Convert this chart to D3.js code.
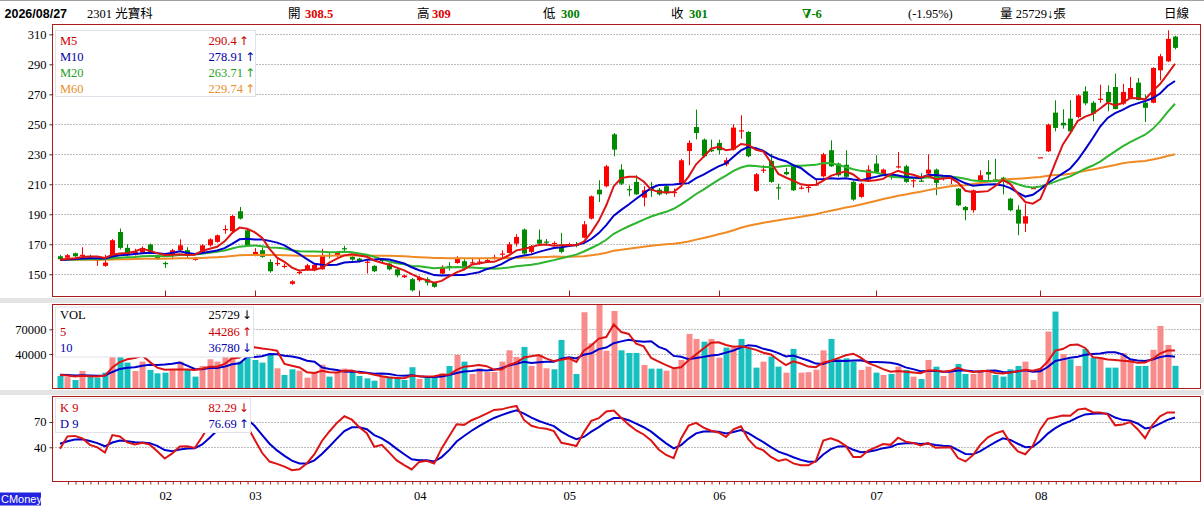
<!DOCTYPE html>
<html>
<head>
<meta charset="utf-8">
<script src="https://cdn.jsdelivr.net/npm/d3@7"></script>
<style>
  body { margin: 0; background: #fff; }
  svg text { font-family: "Liberation Serif", "DejaVu Serif", "Noto Sans CJK TC", serif; }
</style>
</head>
<body>
<script>
// daily candles, 2026/01 .. 2026/08/27
var opens  = [162,161,164,162.5,161.8,159.5,155.6,161.6,178.2,167.6, 163.1,164.5,169.8,162,157.6,162.7,166,166,159.6,164.4,
              169.3,171.6,179.8,178.7,192,179.3,162.7,166,158.2,157, 155.3,143.6,151,153.3,152.7,153.3,162.9,162.2,167.4,161.6,
              160.4,158,155.6,159.6,157.1,153.3,148,146.7,146,146.7, 144.4,150.4,155.5,157.5,158.7,157.6,158.3,159.3,161,163.3,
              164.2,170.4,179.8,164.9,173.1,171.8,170.7,168.2,169.6,169.8, 174.4,187.1,206.4,208.7,243.3,219.8,206.8,211.6,201.1,207.8,
              206.4,208.7,204.5,210.9,232.2,248.2,239.8,233,237.6,223.3, 233.1,245.6,244.9,205.6,219.5,225.6,208,218.2,222.7,207.5,
              207.5,209.5,215.3,232.7,223.8,223,211.6,201.6,213.1,223.8, 216.7,216,221.5,222,212.4,212.5,217.1,219.8,213.5,213.5,
              207.1,194.9,192.7,212.7,218.2,213.3,214.4,200.4,193.1,183.8, 207.5,228,232,257.8,251,253.8,254.9,272,264.4,266.9,
              271.6,274.9,263.8,267.6,277.8,264.4,264.4,286,292,308.5];
var highs  = [163,163.5,164.5,168,163,160.5,163,173.5,180.5,170, 167,168.5,170.5,162.5,158.5,167,173.3,168,161.5,170,
              174,176.5,182.7,189.5,194.9,180,167.5,168,160,160, 157.2,146,153,157,156.5,167,165,165,169,162,
              161,159.4,156,160.5,157.5,154,149.8,147.5,149,148, 145,156,158,162,160,160.5,160.5,160.5,163,166,
              171.5,176.7,180.5,169.5,179.8,173.5,172,177.6,171,171.5, 185.5,202.5,212.7,223,244.2,223.3,209.3,216,208.7,211.6,
              207.5,209.5,207.2,227,239.3,259.8,240.5,239.8,239.8,227.8, 250,256,245.5,217.5,222.7,230.4,210.4,221,223.5,209,
              209.5,213.8,231,239.3,224.5,232.7,212.5,211,222.7,229.3, 220.5,217.5,231.5,223,213.5,217.5,230,220.5,215,215.5,
              207.5,195.5,206.5,219.3,226,227,215,201,196,197.1, 207.5,228,250.5,266,260,266,270,275.3,265.5,276.4,
              276,283.8,277,281.6,280.9,269.8,288,297,312.7,309];
var lows   = [159,160.5,161.5,160.5,160,155.6,155,161,166.5,162, 162.5,164,164,159.5,154.2,160,165.5,161,159,164,
              168.5,171,177,178,186.5,168.5,162,161,151,155.5, 153.9,143,150,152.5,152,153,160.5,161.5,164.8,159,
              158,150.5,151.5,157.5,152.5,148,147.5,138.5,145,142.5, 141,150,152.5,157,153,156,156.5,158.5,159.8,161.5,
              163.8,168.5,163,164,170,169.3,169.5,164,169,168, 174,186.5,198.2,208,228.7,209.5,202,203,195.3,201.6,
              202.5,203,201.6,210,222.7,240,228,231.5,230,222, 232.5,240.4,228,205,217.6,211,199.8,216,205.5,206.5,
              204.5,209,214.5,221.5,215,214.5,199,201,212.5,217.5, 216,213.1,220.5,211,207.8,211.5,216.5,202.7,212.5,210,
              195.5,186,191,212,211.5,212,203.3,192,176,178.2, 207.5,228,231.5,245.3,247.1,244.5,254,262.7,252,264.4,
              258.7,260,263,267,266,251.6,264,279.3,291.6,300];
var closes = [160,162.7,162,163,161.5,159.8,157.8,172.7,167.6,163.1, 164.9,167.5,164.9,160,156.7,166,169.3,162.2,160.9,169.3,
              173.3,176,180.2,188.9,187.1,169.3,164.9,161.6,152,157.5, 155.6,145.3,151.5,156,156.3,162.7,162.5,164.4,167.1,159.8,
              158.7,158.4,152,159.3,153.3,149.3,149.2,139.3,147.6,144.4, 141.6,154.9,154.5,161,153.8,158,158.5,159.5,161.5,163.8,
              170,174.9,163.8,168.7,170.4,171.6,170.9,164.9,170,169.5, 183.3,202,203.3,222,233.1,210.4,206.4,203.3,206,205.8,
              203.3,204,204.9,226,237.6,244.2,228.7,232,232.7,226, 247.8,246,228.7,216.7,219.8,211.6,207.8,216.7,206,207.8,
              208.3,210,230,222,216,215,199.8,210.4,219.8,218.2, 219.8,215.5,222,211.6,212.7,212,219.8,210.9,214.3,214.5,
              196,192.7,206,216,216.5,213,212.7,192.7,183.8,188.7, 207.5,228,249.8,247.6,249.3,245.3,269.3,264,257.1,267.1,
              264.9,260.2,271.6,274.2,266.2,261,287.6,295.4,307,301];
var volumes = [13400,12000,8500,19400,12600,11300,17400,58000,52000,29600, 19400,30800,20700,16600,17400,21000,30800,20700,12600,25500,
               33600,30800,38000,45000,30800,95000,32800,29600,40100,22700, 14600,21500,19800,11300,18200,27100,12600,18200,22300,19800,
               13400,10500,7700,13400,12600,10500,8500,24000,9700,11700, 11700,16600,25500,38900,30800,15800,22700,18200,18200,30800,
               44500,36500,48600,25500,38900,22700,21500,57100,34800,15800, 90700,53000,99600,44000,92300,44500,41300,41300,26700,22300,
               22300,19800,22700,32800,64400,58300,55000,58300,35600,47800, 47800,58300,47800,23500,30800,36900,24700,17400,46200,17400,
               18000,21000,44500,58300,33600,34800,30800,20700,24700,17400, 14600,15800,24700,20700,12600,9700,32800,24700,13400,17400,
               27900,15800,15800,18200,20700,14600,12600,21500,25500,30800, 8500,22700,67300,91500,40100,33600,25500,46200,35600,35600,
               23500,23500,41000,32900,25500,25500,45100,74100,51000,25729];

var monthIdx    = [14, 26, 48, 68, 88, 109, 131];
var monthLabels = ["02", "03", "04", "05", "06", "07", "08"];
var priceTicks  = [150, 170, 190, 210, 230, 250, 270, 290, 310];
var volTicks    = [40000, 70000];
var kdTicks     = [40, 70];

// level of the averages at the left edge (stands in for days before the chart)
var seedClose = 159.5, seedVol = 15000, kSeed = 45, dSeed = 47;

var maLegend  = [["M5", "290.4", "↑"], ["M10", "278.91", "↑"], ["M20", "263.71", "↑"], ["M60", "229.74", "↑"]];
var volLegend = [["VOL", "25729", "↓"], ["5", "44286", "↑"], ["10", "36780", "↓"]];
var kdLegend  = [["K 9", "82.29", "↓"], ["D 9", "76.69", "↑"]];

var movingAvg = function(values, n, seed) {
  return values.map(function(v, i) {
    var sum = 0;
    for (var k = i - n + 1; k <= i; k++) sum += (k < 0 ? seed : values[k]);
    return sum / n;
  });
}

var ma5  = movingAvg(closes, 5, seedClose),
    ma10 = movingAvg(closes, 10, seedClose),
    ma20 = movingAvg(closes, 20, seedClose),
    ma60 = movingAvg(closes, 60, seedClose);
var vma5  = movingAvg(volumes, 5, seedVol),
    vma10 = movingAvg(volumes, 10, seedVol);

// KD(9)
var kLine = [], dLine = [];
var kp = kSeed, dp = dSeed;
closes.forEach(function(c, i) {
  var lo = d3.min(lows.slice(Math.max(0, i - 8), i + 1));
  var hi = d3.max(highs.slice(Math.max(0, i - 8), i + 1));
  var rsv = hi == lo ? 50 : (c - lo) / (hi - lo) * 100;
  kp = kp * 2 / 3 + rsv / 3;
  dp = dp * 2 / 3 + kp / 3;
  kLine.push(kp);
  dLine.push(dp);
});

var screen = {width: 1204, height: 516};
var left = 52.5, right = 1200.5;
var mainP = {top: 24.5, bottom: 296.5},
    volP  = {top: 304.5, bottom: 388.5},
    kdP   = {top: 396.5, bottom: 481.5};

var RED = "#ff0000", GREEN = "#008a00", BORDER = "#a81c1c";

var svg = d3.select("body")
            .append("svg")
            .attr("width", screen.width)
            .attr("height", screen.height);

var x = d3.scaleLinear().domain([0, closes.length - 1]).range([60, 1175]);
var y = d3.scaleLinear().domain([135.5, 316.7]).range([296, 24.3]);
var yVol = d3.scaleLinear().domain([0, 100700]).range([387, 304]);
var yKd = d3.scaleLinear().domain([0, 100]).range([481, 396.7]);

var idx = d3.range(closes.length);
var cx = function(i) { return Math.round(x(i)); };

// top line and separators
svg.append("line").attr("x1", 0).attr("x2", screen.width).attr("y1", 0.5).attr("y2", 0.5)
   .attr("stroke", "#a0a0a0");
svg.append("rect").attr("x", 0).attr("y", 298).attr("width", screen.width).attr("height", 5).attr("fill", "#e4e4e4");
svg.append("rect").attr("x", 0).attr("y", 390).attr("width", screen.width).attr("height", 5).attr("fill", "#e4e4e4");

// header
var header = [
  {t: "2026/08/27", x: 4.5, bold: true, sans: true, c: "#000"},
  {t: "2301 光寶科", x: 87, c: "#000"},
  {t: "開", x: 288, c: "#000"}, {t: "308.5", x: 305, bold: true, c: "#e00000"},
  {t: "高", x: 417, c: "#000"}, {t: "309", x: 432, bold: true, c: "#e00000"},
  {t: "低", x: 543, c: "#000"}, {t: "300", x: 561, bold: true, c: "#008000"},
  {t: "收", x: 671, c: "#000"}, {t: "301", x: 689, bold: true, c: "#008000"},
  {t: "∇-6", x: 802, bold: true, c: "#008000"},
  {t: "(-1.95%)", x: 908, c: "#000"},
  {t: "量 25729↓張", x: 1000, c: "#000"},
  {t: "日線", x: 1164, c: "#000"}
];
svg.append("g").selectAll("text")
   .data(header)
   .enter()
   .append("text")
   .attr("x", function(d) { return d.x; })
   .attr("y", 13.5)
   .attr("dominant-baseline", "central")
   .attr("font-size", 12.5)
   .attr("font-weight", function(d) { return d.bold ? "bold" : "normal"; })
   .style("font-family", function(d) { return d.sans ? "'Liberation Sans', Arial, sans-serif" : null; })
   .attr("fill", function(d) { return d.c; })
   .text(function(d) { return d.t; });

// panel helper: clip + dotted grid + y labels
var panel = function(name, p, scale, ticks, fmt) {
  svg.append("clipPath").attr("id", "clip-" + name)
     .append("rect").attr("x", left).attr("y", p.top).attr("width", right - left).attr("height", p.bottom - p.top);

  svg.append("g").selectAll("line")
     .data(ticks)
     .enter()
     .append("line")
     .attr("x1", left).attr("x2", right)
     .attr("y1", function(d) { return Math.round(scale(d)) + 0.5; })
     .attr("y2", function(d) { return Math.round(scale(d)) + 0.5; })
     .attr("stroke", "#7a7a7a")
     .attr("stroke-dasharray", "1,2");

  var ax = svg.append("g")
              .attr("transform", "translate(" + left + ",0)")
              .call(d3.axisLeft(scale).tickValues(ticks).tickSize(3).tickPadding(3).tickFormat(fmt));
  ax.select(".domain").remove();
  ax.selectAll("text").attr("font-size", 12.5).attr("fill", "#000")
    .style("font-family", "'Liberation Serif', serif");
  ax.selectAll("line").attr("stroke", "#333");

  return svg.append("g").attr("clip-path", "url(#clip-" + name + ")");
}

var lineGen = function(scale, arr) {
  return d3.line().x(function(i) { return x(i); }).y(function(i) { return scale(arr[i]); });
}

var legend = function(rows, box, colors, rowY) {
  svg.append("rect")
     .attr("x", box.x + 0.5).attr("y", box.y + 0.5).attr("width", box.w).attr("height", box.h)
     .attr("fill", "#fff").attr("stroke", "#e2e2ea");
  var g = svg.append("g").selectAll("g")
             .data(rows)
             .enter()
             .append("g");
  g.append("text")
   .attr("x", 60)
   .attr("y", function(d, i) { return rowY[i]; })
   .attr("dominant-baseline", "central")
   .attr("font-size", 12.5)
   .attr("fill", function(d, i) { return colors[i]; })
   .text(function(d) { return d[0]; });
  var v = g.append("text")
           .attr("x", 208.5)
           .attr("y", function(d, i) { return rowY[i]; })
           .attr("dominant-baseline", "central")
           .attr("font-size", 12.5)
           .attr("fill", function(d, i) { return colors[i]; });
  v.append("tspan").text(function(d) { return d[1]; });
  v.append("tspan").attr("dx", 2).style("font-family", "'DejaVu Sans', sans-serif").attr("font-size", 12)
   .text(function(d) { return d[2]; });
}

// ---- main price panel
var mainG = panel("main", mainP, y, priceTicks, d3.format("d"));

var candle = mainG.append("g").selectAll("g")
                  .data(idx)
                  .enter()
                  .append("g");
candle.append("line")
      .attr("x1", function(i) { return cx(i) + 0.5; })
      .attr("x2", function(i) { return cx(i) + 0.5; })
      .attr("y1", function(i) { return y(highs[i]); })
      .attr("y2", function(i) { return y(lows[i]); })
      .attr("stroke", function(i) { return closes[i] >= opens[i] ? RED : GREEN; });
candle.append("rect")
      .attr("x", function(i) { return cx(i) - 2; })
      .attr("width", 5)
      .attr("y", function(i) { return y(Math.max(opens[i], closes[i])); })
      .attr("height", function(i) { return Math.max(1.2, Math.abs(y(opens[i]) - y(closes[i]))); })
      .attr("fill", function(i) { return closes[i] >= opens[i] ? RED : GREEN; });

var maLines = [[ma60, "#f08a24"], [ma20, "#2db52d"], [ma10, "#0000cc"], [ma5, "#dc1414"]];
mainG.append("g").selectAll("path")
     .data(maLines)
     .enter()
     .append("path")
     .attr("d", function(d) { return lineGen(y, d[0])(idx); })
     .attr("fill", "none")
     .attr("stroke", function(d) { return d[1]; })
     .attr("stroke-width", 2);

// month ticks on the bottom edge of the price panel
svg.append("g").selectAll("line")
   .data(monthIdx)
   .enter()
   .append("line")
   .attr("x1", function(i) { return cx(i) + 0.5; })
   .attr("x2", function(i) { return cx(i) + 0.5; })
   .attr("y1", mainP.bottom - 6).attr("y2", mainP.bottom)
   .attr("stroke", BORDER);

legend(maLegend, {x: 55, y: 30, w: 200, h: 66},
       ["#cc0000", "#0000a8", "#1f9f1f", "#e8902c"], [40.5, 56.5, 72.5, 88.5]);

// ---- volume panel
var volG = panel("vol", volP, yVol, volTicks, d3.format("d"));
volG.append("g").selectAll("rect")
    .data(idx)
    .enter()
    .append("rect")
    .attr("x", function(i) { return cx(i) - 2.5; })
    .attr("width", 6)
    .attr("y", function(i) { return yVol(volumes[i]); })
    .attr("height", function(i) { return yVol(0) - yVol(volumes[i]) + 1; })
    .attr("fill", function(i) {
      var up = i == 0 ? closes[i] >= opens[i] : closes[i] > closes[i - 1];
      return up ? "#f98b8b" : "#17bfbf";
    });
volG.append("g").selectAll("path")
    .data([[vma10, "#0000cc"], [vma5, "#dc1414"]])
    .enter()
    .append("path")
    .attr("d", function(d) { return lineGen(yVol, d[0])(idx); })
    .attr("fill", "none")
    .attr("stroke", function(d) { return d[1]; })
    .attr("stroke-width", 2);
legend(volLegend, {x: 55, y: 306.5, w: 198, h: 50}, ["#000", "#cc0000", "#0000a8"], [315.3, 331.8, 348]);

// ---- KD panel
var kdG = panel("kd", kdP, yKd, kdTicks, d3.format("d"));
kdG.append("g").selectAll("path")
   .data([[dLine, "#0000cc"], [kLine, "#dc1414"]])
   .enter()
   .append("path")
   .attr("d", function(d) { return lineGen(yKd, d[0])(idx); })
   .attr("fill", "none")
   .attr("stroke", function(d) { return d[1]; })
   .attr("stroke-width", 2);
legend(kdLegend, {x: 55, y: 398, w: 195, h: 34}, ["#cc0000", "#0000a8"], [407.7, 424.3]);

// panel borders
[mainP, volP, kdP].forEach(function(p) {
  svg.append("rect")
     .attr("x", left).attr("y", p.top)
     .attr("width", right - left).attr("height", p.bottom - p.top)
     .attr("fill", "none").attr("stroke", BORDER);
});

// bottom axis: a tick per day, month labels under it
var dayAxis = svg.append("g")
                 .attr("transform", "translate(0.5," + kdP.bottom + ")")
                 .call(d3.axisBottom(x).tickValues(d3.range(1, closes.length)).tickSize(3).tickFormat(""));
dayAxis.select(".domain").remove();
dayAxis.selectAll("line").attr("stroke", BORDER);

var monthAxis = svg.append("g")
                   .attr("transform", "translate(0.5,491)")
                   .call(d3.axisBottom(x).tickValues(monthIdx).tickSize(0).tickPadding(0)
                           .tickFormat(function(d, k) { return monthLabels[k]; }));
monthAxis.select(".domain").remove();
monthAxis.selectAll("text")
         .attr("font-size", 12.5).attr("fill", "#000")
         .style("font-family", "'Liberation Serif', serif");

// logo
svg.append("rect").attr("x", 0).attr("y", 492.5).attr("width", 41).attr("height", 13).attr("fill", "#2424e0");
svg.append("text").attr("x", 1).attr("y", 499).attr("dominant-baseline", "central")
   .attr("font-size", 11).attr("fill", "#fff")
   .style("font-family", "'Liberation Sans', Arial, sans-serif")
   .text("CMoney");
</script>
</body>
</html>
